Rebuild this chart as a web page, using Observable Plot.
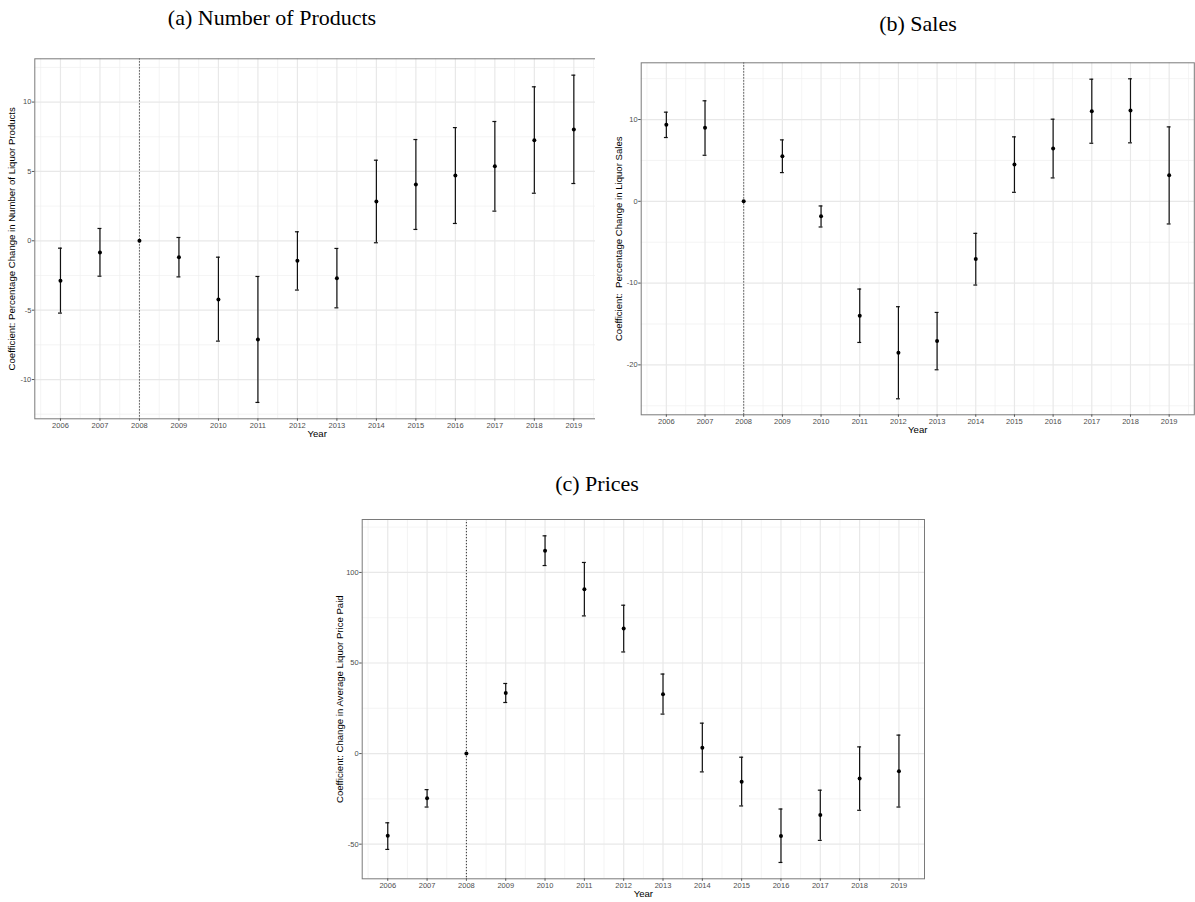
<!DOCTYPE html>
<html>
<head>
<meta charset="utf-8">
<script src="https://cdn.jsdelivr.net/npm/d3@7"></script>
<script src="https://cdn.jsdelivr.net/npm/@observablehq/plot@0.6"></script>
<style>
  body { margin: 0; background: #fff; }
  #page { position: relative; width: 1195px; height: 902px; overflow: hidden; background: #fff; }
  .title {
    position: absolute;
    font-family: "Liberation Serif", "Times New Roman", serif;
    font-size: 22px;
    color: #000;
    transform: translate(-50%, -50%);
    white-space: nowrap;
  }
  .panel { position: absolute; }
  .panel svg { display: block; }
</style>
</head>
<body>
<div id="page">
  <div class="title" style="left:272px; top:18px;">(a) Number of Products</div>
  <div class="title" style="left:918px; top:24px;">(b) Sales</div>
  <div class="title" style="left:597px; top:484px;">(c) Prices</div>
  <div class="panel" id="panelA" style="left:0px; top:48px;"></div>
  <div class="panel" id="panelB" style="left:595px; top:52px;"></div>
  <div class="panel" id="panelC" style="left:320px; top:509px;"></div>
</div>
<script>
// Event-study years; 2008 is the reference year (coefficient normalised to 0, no interval).
const years = [2006, 2007, 2008, 2009, 2010, 2011, 2012, 2013, 2014, 2015, 2016, 2017, 2018, 2019];
const referenceYear = 2008;

// (a) Percentage change in number of liquor products
const productsCoef = [-2.88, -0.84, 0, -1.18, -4.23, -7.11, -1.44, -2.69, 2.83, 4.06, 4.71, 5.38, 7.25, 8.02];
const productsLo   = [-5.21, -2.55, null, -2.60, -7.23, -11.65, -3.55, -4.83, -0.14, 0.82, 1.25, 2.14, 3.43, 4.13];
const productsHi   = [-0.53, 0.89, null, 0.24, -1.18, -2.57, 0.65, -0.55, 5.81, 7.30, 8.16, 8.60, 11.10, 11.94];
const productsTicks = [-10, -5, 0, 5, 10];

// (b) Percentage change in liquor sales
const salesCoef = [9.35, 8.98, 0, 5.51, -1.84, -13.99, -18.52, -17.09, -7.05, 4.49, 6.45, 11.02, 11.10, 3.18];
const salesLo   = [7.80, 5.63, null, 3.51, -3.14, -17.26, -24.15, -20.60, -10.24, 1.10, 2.86, 7.10, 7.15, -2.77];
const salesHi   = [10.90, 12.29, null, 7.51, -0.57, -10.73, -12.89, -13.59, -3.92, 7.88, 10.04, 14.93, 14.98, 9.10];
const salesTicks = [-20, -10, 0, 10];

// (c) Change in average liquor price paid
const pricesCoef = [-45.4, -24.7, 0, 33.4, 111.9, 90.7, 69.1, 32.8, 3.2, -15.5, -45.5, -33.9, -13.8, -9.7];
const pricesLo   = [-52.9, -29.5, null, 28.2, 103.8, 76.0, 56.1, 21.8, -10.1, -28.9, -60.1, -47.9, -31.3, -29.5];
const pricesHi   = [-38.2, -19.9, null, 38.7, 120.2, 105.5, 81.9, 43.9, 16.8, -2.0, -30.6, -20.2, 3.7, 10.2];
const pricesTicks = [-50, 0, 50, 100];

// Minor grid lines sit halfway between major ones, kept inside the domain.
function minorTicks(majors, domain) {
  const step = majors[1] - majors[0];
  const out = [];
  for (let v = majors[0] - step / 2; v <= domain[1]; v += step) {
    if (v >= domain[0]) out.push(v);
  }
  for (let v = majors[0] - step * 1.5; v >= domain[0]; v -= step) out.push(v);
  return out;
}

// Pad a range by 5% on each side.
function expand([a, b], k = 0.05) {
  const pad = (b - a) * k;
  return [a - pad, b + pad];
}

function eventStudy({coef, lo, hi, yTicks, yLabel, width, height, margin}) {
  const rows = years.map((year, i) => ({year, coef: coef[i], lo: lo[i], hi: hi[i]}));
  const bars = rows.filter(d => d.lo != null && d.hi != null);
  const yDomain = expand(d3.extent(rows.flatMap(d => [d.coef, d.lo, d.hi]).filter(v => v != null)));
  const xDomain = expand(d3.extent(years));
  const xMinor = minorTicks(years, xDomain);
  const yMinor = minorTicks(yTicks, yDomain);
  const capHalf = 0.05;
  const barStroke = "#111";

  return Plot.plot({
    width, height,
    marginLeft: margin.left, marginRight: margin.right,
    marginTop: margin.top, marginBottom: margin.bottom,
    x: {domain: xDomain},
    y: {domain: yDomain},
    style: {fontFamily: "'Liberation Sans', Arial, sans-serif", background: "#fff", overflow: "visible"},
    marks: [
      Plot.gridY(yMinor, {stroke: "#efefef", strokeOpacity: 1, strokeWidth: 0.7}),
      Plot.gridX(xMinor, {stroke: "#efefef", strokeOpacity: 1, strokeWidth: 0.7}),
      Plot.gridY(yTicks, {stroke: "#e8e8e8", strokeOpacity: 1, strokeWidth: 1.2}),
      Plot.gridX(years, {stroke: "#e8e8e8", strokeOpacity: 1, strokeWidth: 1.2}),
      Plot.ruleX([referenceYear], {stroke: "#333", strokeWidth: 1, strokeDasharray: "1.2,1.8"}),
      Plot.ruleX(bars, {x: "year", y1: "lo", y2: "hi", stroke: barStroke, strokeWidth: 1.2}),
      Plot.ruleY(bars, {y: "lo", x1: d => d.year - capHalf, x2: d => d.year + capHalf, stroke: barStroke, strokeWidth: 1.2}),
      Plot.ruleY(bars, {y: "hi", x1: d => d.year - capHalf, x2: d => d.year + capHalf, stroke: barStroke, strokeWidth: 1.2}),
      Plot.dot(rows, {x: "year", y: "coef", r: 2, fill: "#000", stroke: null}),
      Plot.frame({stroke: "#7a7a7a", strokeWidth: 1}),
      Plot.axisX(years, {
        tickFormat: d => String(d), tickSize: 2.5, tickPadding: 1.8,
        fontSize: 7.5, stroke: "#555", fill: "#4d4d4d", label: null
      }),
      Plot.axisY(yTicks, {
        tickFormat: d => String(d), tickSize: 2.5, tickPadding: 1,
        fontSize: 7.5, stroke: "#555", fill: "#4d4d4d", label: null
      }),
      Plot.text([yLabel], {frameAnchor: "left", textAnchor: "middle", dx: -22.5, rotate: -90, fontSize: 9.6, fill: "#000"}),
      Plot.text(["Year"], {frameAnchor: "bottom", textAnchor: "middle", dy: 18, fontSize: 9.6, fill: "#000"})
    ]
  });
}

document.getElementById("panelA").append(eventStudy({
  coef: productsCoef, lo: productsLo, hi: productsHi, yTicks: productsTicks,
  yLabel: "Coefficient: Percentage Change in Number of Liquor Products",
  width: 605, height: 400,
  margin: {left: 34.3, right: 6, top: 10.3, bottom: 29.7}
}));

document.getElementById("panelB").append(eventStudy({
  coef: salesCoef, lo: salesLo, hi: salesHi, yTicks: salesTicks,
  yLabel: "Coefficient:  Percentage Change in Liquor Sales",
  width: 600, height: 392,
  margin: {left: 45.7, right: 1.2, top: 10.3, bottom: 29.7}
}));

document.getElementById("panelC").append(eventStudy({
  coef: pricesCoef, lo: pricesLo, hi: pricesHi, yTicks: pricesTicks,
  yLabel: "Coefficient: Change in Average Liquor Price Paid",
  width: 610, height: 393,
  margin: {left: 41.7, right: 6, top: 10, bottom: 23.7}
}));
</script>
</body>
</html>
